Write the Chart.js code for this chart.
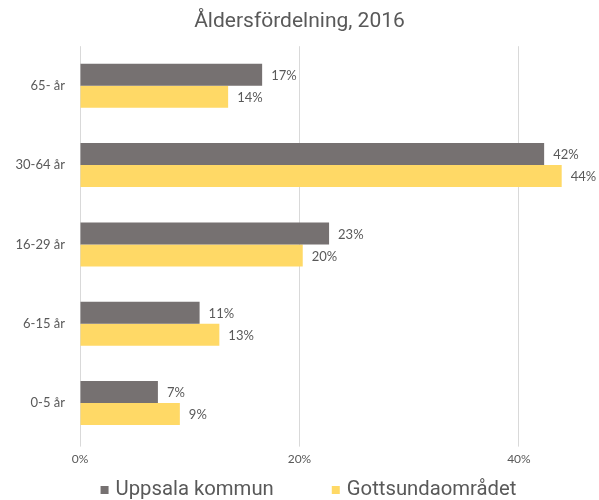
<!DOCTYPE html>
<html>
<head>
<meta charset="utf-8">
<script src="https://cdn.jsdelivr.net/npm/chart.js@4"></script>
<style>
html,body{margin:0;padding:0;background:#fff;}
#wrap{width:599px;height:500px;}
</style>
</head>
<body>
<div id="wrap"><canvas id="c" width="599" height="500"></canvas></div>
<script>
const categories = ['65- år', '30-64 år', '16-29 år', '6-15 år', '0-5 år'];
const seriesNames = ['Uppsala kommun', 'Gottsundaområdet'];
const uppsala = [16.6, 42.3, 22.7, 10.9, 7.1];
const gottsund = [13.5, 43.9, 20.3, 12.7, 9.1];
const xTicks = [0, 20, 40];

const TEXT = '#595959';
const GRAY = '#767171';
const YELLOW = '#FFD966';

const valueLabels = {
  id: 'valueLabels',
  afterDatasetsDraw(chart) {
    const ctx = chart.ctx;
    ctx.save();
    ctx.font = '13px Lato';
    ctx.fillStyle = TEXT;
    ctx.textAlign = 'left';
    ctx.textBaseline = 'middle';
    chart.data.datasets.forEach((ds, i) => {
      const meta = chart.getDatasetMeta(i);
      meta.data.forEach((el, j) => {
        ctx.fillText(Math.round(ds.data[j]) + '%', el.x + 9, el.y + 1);
      });
    });
    ctx.restore();
  }
};

const customLegend = {
  id: 'customLegend',
  afterDraw(chart) {
    const ctx = chart.ctx;
    ctx.save();
    ctx.font = '20.3px Roboto';
    ctx.textBaseline = 'middle';
    const box = 8, gap = 7, spacing = 58;
    const items = chart.data.datasets.map(ds => ({text: ds.label, color: ds.backgroundColor, w: ctx.measureText(ds.label).width}));
    let total = 0;
    items.forEach((it, i) => { total += box + gap + it.w + (i < items.length - 1 ? spacing : 0); });
    let x = chart.width / 2 + 9 - total / 2;
    const y = 490;
    items.forEach(it => {
      ctx.fillStyle = it.color;
      ctx.fillRect(x, y - 4, box, box);
      x += box + gap;
      ctx.fillStyle = TEXT;
      ctx.fillText(it.text, x, y);
      x += it.w + spacing;
    });
    ctx.restore();
  }
};

new Chart(document.getElementById('c'), {
  type: 'bar',
  data: {
    labels: categories,
    datasets: [
      {label: seriesNames[0], data: uppsala, backgroundColor: GRAY, categoryPercentage: 0.555, barPercentage: 1},
      {label: seriesNames[1], data: gottsund, backgroundColor: YELLOW, categoryPercentage: 0.555, barPercentage: 1}
    ]
  },
  options: {
    indexAxis: 'y',
    responsive: false,
    animation: false,
    devicePixelRatio: 1,
    layout: {padding: {left: 0, right: 0, top: 0, bottom: 29}},
    plugins: {
      legend: {display: false},
      tooltip: {enabled: false},
      title: {
        display: true,
        text: 'Åldersfördelning, 2016',
        color: TEXT,
        font: {family: 'Roboto', size: 21, weight: 'normal'},
        padding: {top: 9, bottom: 12}
      }
    },
    scales: {
      x: {
        min: 0,
        max: 47.3,
        afterBuildTicks(scale) {
          scale.ticks = xTicks.map(v => ({value: v}));
        },
        ticks: {
          color: TEXT,
          font: {family: 'Lato', size: 12},
          padding: 5,
          callback: v => v + '%'
        },
        grid: {color: '#d9d9d9', lineWidth: 1, tickLength: 4, drawTicks: true},
        border: {display: false}
      },
      y: {
        afterFit(scale) { scale.width = 80; },
        ticks: {
          color: TEXT,
          font: {family: 'Lato', size: 13},
          padding: 15
        },
        grid: {display: false, drawTicks: false, tickLength: 0},
        border: {display: false}
      }
    }
  },
  plugins: [valueLabels, customLegend]
});
</script>
</body>
</html>
